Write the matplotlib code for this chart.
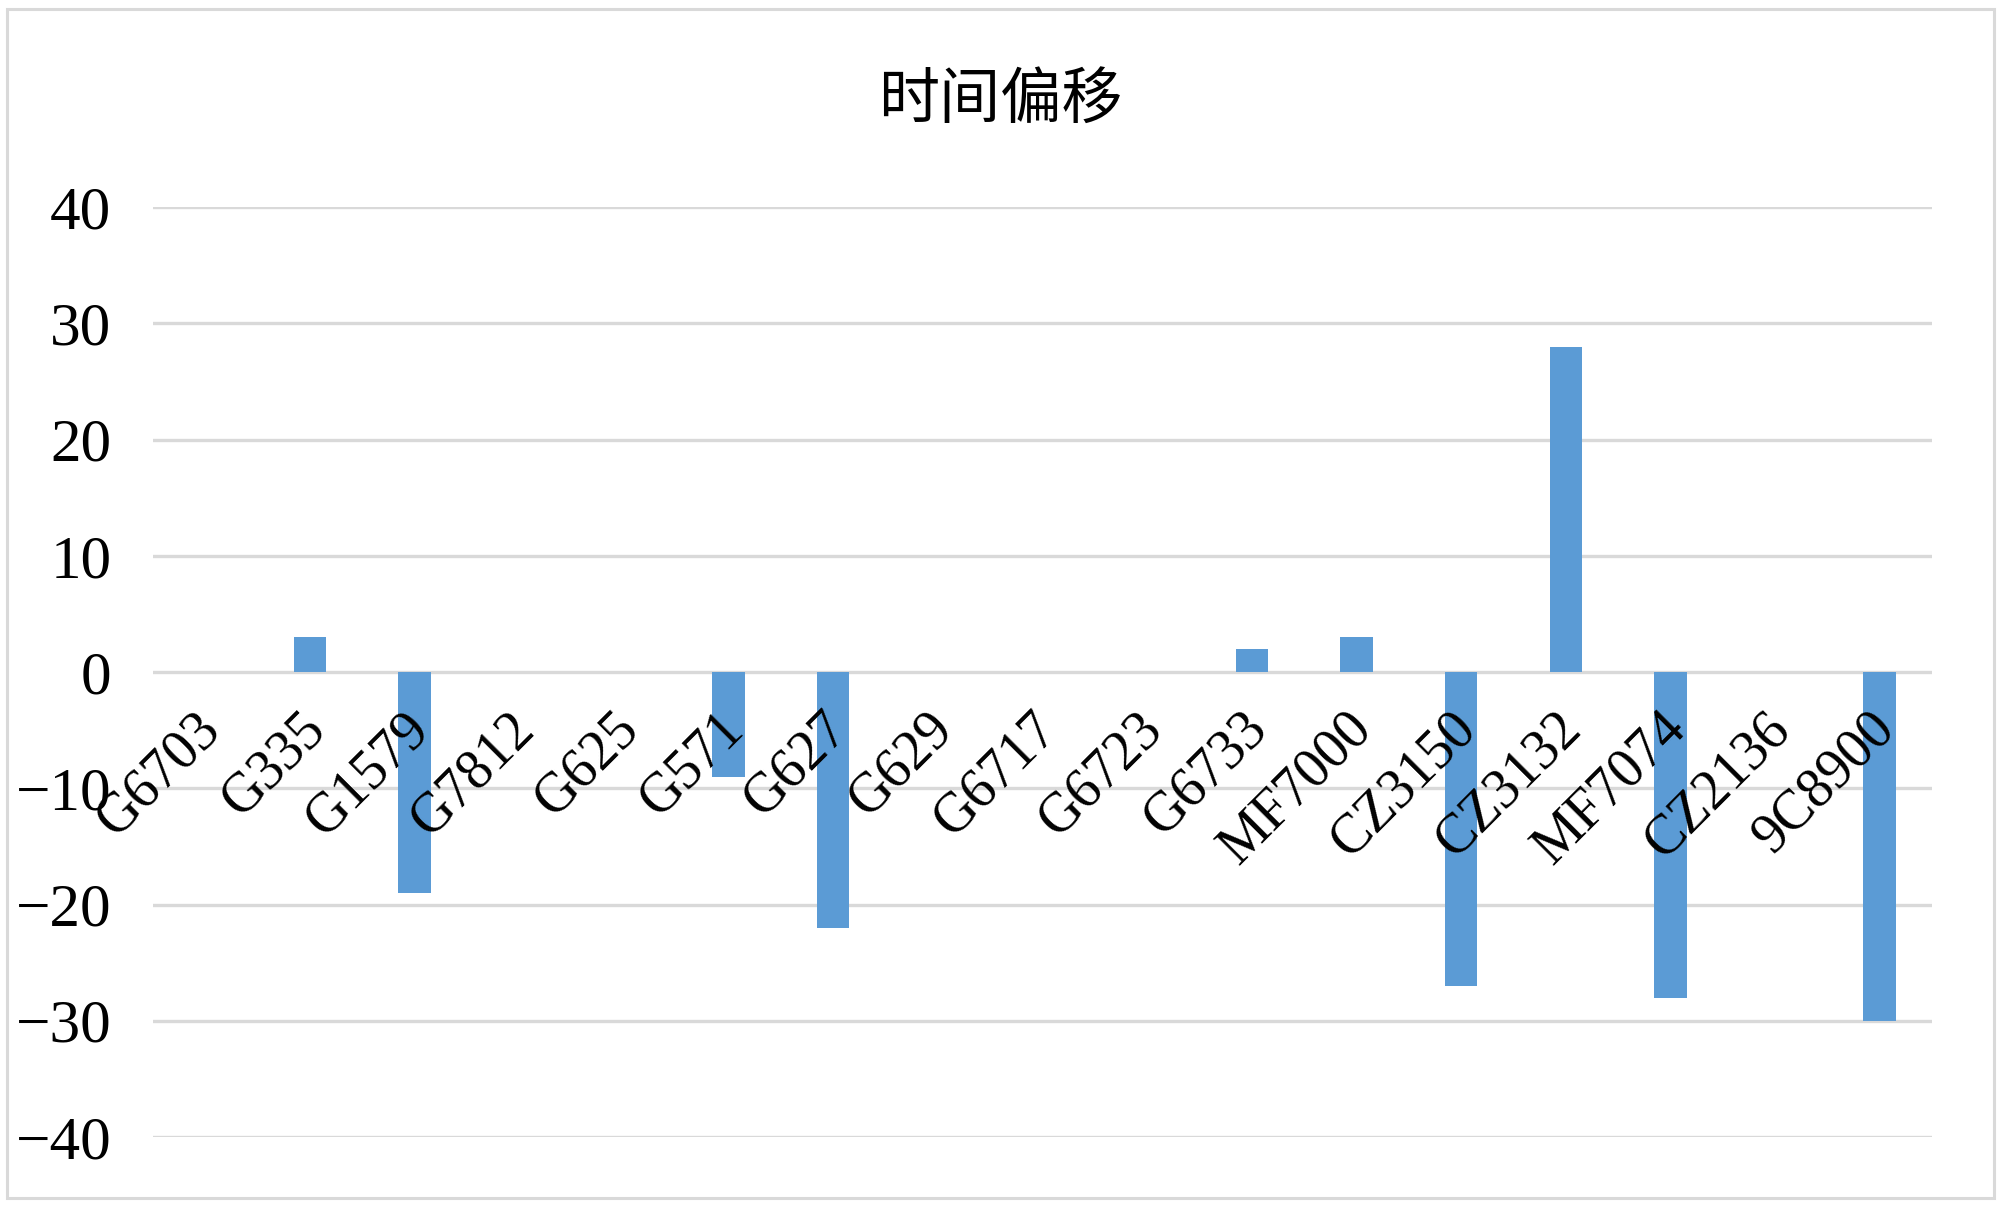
import matplotlib
matplotlib.use("Agg")
import matplotlib.pyplot as plt
import matplotlib.transforms as mtransforms
from matplotlib.patches import Rectangle

categories = ["G6703", "G335", "G1579", "G7812", "G625", "G571", "G627", "G629",
              "G6717", "G6723", "G6733", "MF7000", "CZ3150", "CZ3132", "MF7074",
              "CZ2136", "9C8900"]
values = [0, 3, -19, 0, 0, -9, -22, 0, 0, 0, 2, 3, -27, 28, -28, 0, -30]
yticks = [-40, -30, -20, -10, 0, 10, 20, 30, 40]
title = "时间偏移"

W, H, DPI = 2000, 1207, 100
fig = plt.figure(figsize=(W / DPI, H / DPI), dpi=DPI)
fig.patch.set_facecolor("white")

# outer chart border
fig.add_artist(Rectangle((7 / W, 9 / H), (1994 - 7) / W, (1198 - 9) / H,
                         transform=fig.transFigure, fill=False,
                         edgecolor="#d9d9d9", linewidth=2.2))

left, right = 153 / W, 1932 / W
top, bottom = 1 - 207 / H, 1 - 1137 / H
ax = fig.add_axes([left, bottom, right - left, top - bottom])

x = list(range(len(categories)))
ax.bar(x, values, width=0.31, color="#5B9BD5", zorder=3)

ax.set_xlim(-0.5, len(categories) - 0.5)
ax.set_ylim(-40, 40)
ax.set_yticks(yticks)
ax.set_xticks([])
ax.yaxis.grid(True, color="#d9d9d9", linewidth=2.4, zorder=0)
ax.set_axisbelow(True)
for s in ax.spines.values():
    s.set_visible(False)
ax.tick_params(axis="y", length=0, pad=30, labelsize=44)
for lab in ax.get_yticklabels():
    lab.set_fontfamily("Liberation Serif")

# category labels next to the zero axis, rotated
lab_tr = mtransforms.offset_copy(ax.transData, fig=fig, x=5, y=-35, units="points")
for xi, name in zip(x, categories):
    ax.text(xi, 0, name, rotation=45, rotation_mode="anchor",
            ha="right", va="center", fontsize=40, family="Liberation Serif",
            transform=lab_tr, zorder=5)

fig.text(1000 / W, 1 - 101 / H, title, ha="center", va="center", fontsize=44,
         family=["Noto Sans CJK SC", "DejaVu Sans"])

fig.savefig("out.png", dpi=DPI, facecolor="white")
